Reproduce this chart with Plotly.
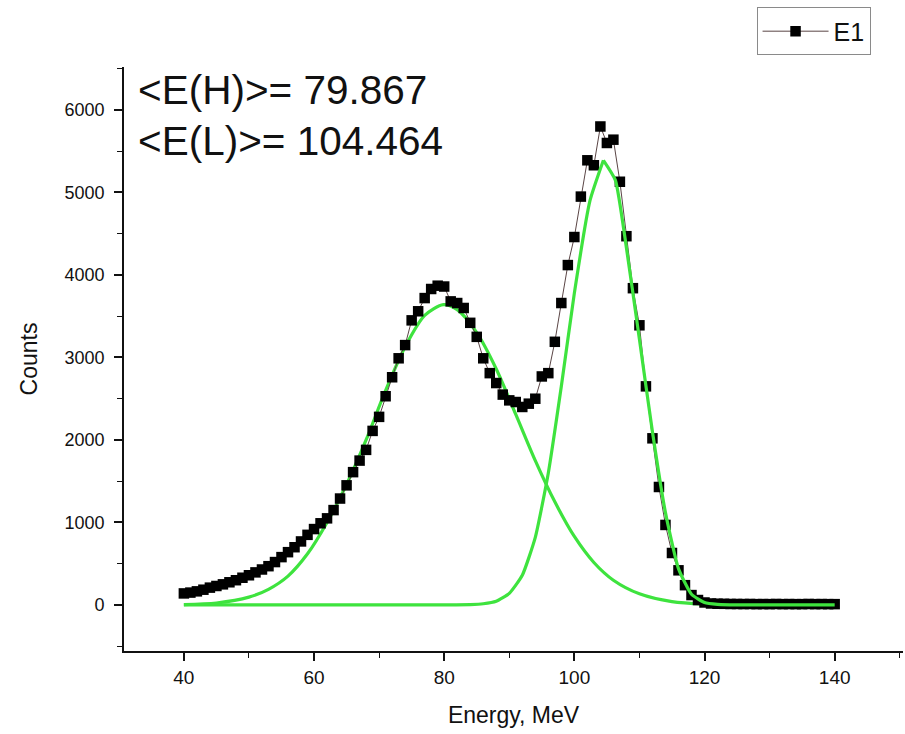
import plotly.graph_objects as go

# Measured spectrum, 1 MeV bins
energy = list(range(40, 141))
counts = [
    140, 150, 165, 185, 210, 230, 250, 275, 300, 330,          # 40-49
    360, 395, 430, 470, 520, 580, 640, 700, 770, 850,          # 50-59
    920, 990, 1050, 1150, 1290, 1450, 1610, 1750, 1880, 2110,  # 60-69
    2280, 2530, 2760, 2990, 3150, 3450, 3560, 3720, 3830, 3870,  # 70-79
    3860, 3680, 3660, 3600, 3420, 3250, 2990, 2810, 2690, 2550,  # 80-89
    2480, 2460, 2400, 2440, 2500, 2770, 2810, 3190, 3660, 4120,  # 90-99
    4460, 4950, 5390, 5330, 5800, 5600, 5640, 5130, 4470, 3840,  # 100-109
    3390, 2650, 2020, 1430, 970, 630, 420, 240, 120, 60,       # 110-119
    30, 18, 15, 14, 12, 12, 11, 12, 10, 11,                    # 120-129
    10, 12, 10, 11, 10, 10, 12, 10, 11, 10, 10,                # 130-140
]

# Fitted component H (peak at <E(H)>)
fit_h_x = [40, 45, 50, 53, 56, 59, 62, 65, 68, 71, 74, 77, 79.867,
           82, 85, 88, 91, 94, 97, 100, 103, 106, 110, 115, 120, 130, 140]
fit_h_y = [5, 24, 95, 190, 350, 620, 1000, 1460, 2000, 2600, 3130, 3510, 3640,
           3580, 3300, 2860, 2310, 1750, 1250, 830, 515, 300, 135, 40, 10, 0, 0]

# Fitted component L (peak at <E(L)>), rising and falling flanks
fit_l_rise_x = [40, 80, 84, 86, 88, 90, 92, 94, 96, 98, 100, 102.4, 104.464]
fit_l_rise_y = [0, 0, 5, 15, 45, 140, 360, 820, 1600, 2650, 3780, 4900, 5390]
fit_l_fall_x = [104.464, 106.3, 108, 110, 112, 114, 116, 118, 120, 122, 126, 140]
fit_l_fall_y = [5390, 5150, 4330, 3220, 2100, 1120, 440, 130, 30, 8, 0, 0]

mean_labels = ["<E(H)>= 79.867", "<E(L)>= 104.464"]

x_ticks = [40, 60, 80, 100, 120, 140]
y_ticks = [0, 1000, 2000, 3000, 4000, 5000, 6000]

FONT = "Liberation Sans, Arial, sans-serif"
GREEN = "#3ee33e"
INK = "#111111"

fig = go.Figure()

fig.add_trace(go.Scatter(
    x=fit_h_x, y=fit_h_y, mode="lines",
    line=dict(color=GREEN, width=3.2, shape="spline", smoothing=0.8),
    showlegend=False, hoverinfo="skip",
))

fig.add_trace(go.Scatter(
    x=energy, y=counts, mode="lines+markers", name="E1",
    line=dict(color="#5a4545", width=1),
    marker=dict(symbol="square", size=10.5, color="#000000"),
))

for fx, fy in ((fit_l_rise_x, fit_l_rise_y), (fit_l_fall_x, fit_l_fall_y)):
    fig.add_trace(go.Scatter(
        x=fx, y=fy, mode="lines",
        line=dict(color=GREEN, width=3.2, shape="spline", smoothing=0.5),
        showlegend=False, hoverinfo="skip",
    ))

for i, txt in enumerate(mean_labels):
    fig.add_annotation(
        text=txt, xref="paper", yref="paper", x=0.016, y=0.96 - i * 0.086,
        xanchor="left", yanchor="middle", showarrow=False,
        font=dict(family=FONT, size=40.5, color=INK),
    )

fig.update_layout(
    width=905, height=734,
    margin=dict(l=124, r=2, t=67, b=83),
    paper_bgcolor="white", plot_bgcolor="white",
    font=dict(family=FONT, color=INK),
    showlegend=True,
    legend=dict(
        x=0.812, y=1.102, xanchor="left", yanchor="top",
        bordercolor="#8a8a8a", borderwidth=1, bgcolor="white",
        font=dict(family=FONT, size=25, color=INK),
        itemwidth=66, tracegroupgap=0,
    ),
)

fig.update_xaxes(
    range=[30.8, 150.5], tickvals=x_ticks, ticks="outside", ticklen=8, tickwidth=1.5,
    tickcolor=INK, showline=True, linecolor=INK, linewidth=1.8,
    showgrid=False, zeroline=False, tickfont=dict(size=19, color=INK),
    minor=dict(dtick=10, tick0=30, ticks="outside", ticklen=5, tickwidth=1.3, tickcolor=INK),
    title=dict(text="Energy, MeV", font=dict(size=23, color=INK), standoff=20),
)

fig.update_yaxes(
    range=[-558, 6521], tickvals=y_ticks, ticks="outside", ticklen=8, tickwidth=1.5,
    tickcolor=INK, showline=True, linecolor=INK, linewidth=1.8,
    showgrid=False, zeroline=False, tickfont=dict(size=18, color=INK),
    minor=dict(dtick=500, tick0=0, ticks="outside", ticklen=5, tickwidth=1.3, tickcolor=INK),
    ticklabelstandoff=6,
    title=dict(text="Counts", font=dict(size=23, color=INK), standoff=20),
)

fig.write_html("out.html")
